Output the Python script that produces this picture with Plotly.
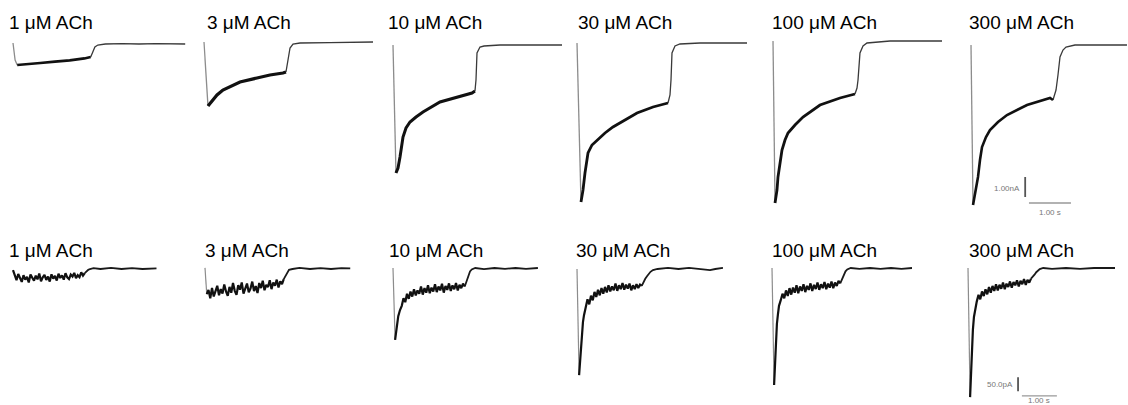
import plotly.graph_objects as go

W, H = 1128, 405

labels = ["1 μM ACh", "3 μM ACh", "10 μM ACh", "30 μM ACh", "100 μM ACh", "300 μM ACh"]

# ---------------- top row: time (s) vs current (nA) ----------------
top_t1 = [0, 0.05, 0.1, 0.3, 0.65, 1.0, 1.35, 1.7, 1.85, 1.9, 1.95, 2.02, 2.2, 2.6, 3.0, 3.4, 3.8, 4.1]
top_i1 = [0.05, -0.8, -1.05, -1.0, -0.95, -0.88, -0.82, -0.72, -0.65, -0.4, -0.15, -0.05, 0, 0.02, 0, 0.02, 0, 0]

top_t2 = [0, 0.048, 0.095, 0.19, 0.31, 0.45, 0.64, 0.857, 1.262, 1.571, 1.881, 1.952, 2.0, 2.048, 2.119, 2.286, 3.0, 4.024]
top_i2 = [0.05, -1.85, -3.15, -2.9, -2.6, -2.35, -2.15, -1.95, -1.75, -1.6, -1.5, -1.45, -0.85, -0.25, -0.05, 0, 0.02, 0.05]

top_t3 = [0, 0.048, 0.071, 0.119, 0.167, 0.238, 0.31, 0.405, 0.548, 0.714, 1.119, 1.524, 1.881, 1.952, 1.976, 2.0, 2.071, 2.167, 2.548, 4.024]
top_i3 = [0, -3.75, -6.4, -6.15, -5.6, -4.6, -4.15, -3.85, -3.6, -3.35, -2.85, -2.6, -2.4, -2.3, -1.75, -0.4, -0.1, -0.05, 0, 0]

top_t4 = [0, 0.048, 0.095, 0.143, 0.19, 0.262, 0.357, 0.476, 0.667, 0.857, 1.143, 1.429, 1.81, 2.167, 2.214, 2.238, 2.262, 2.333, 2.452, 2.929, 4.048]
top_i4 = [0, -4.35, -7.95, -7.35, -6.5, -5.5, -5.1, -4.85, -4.5, -4.2, -3.85, -3.5, -3.2, -3.0, -2.6, -1.85, -0.5, -0.15, -0.05, 0, 0]

top_t5 = [0, 0.024, 0.048, 0.095, 0.119, 0.167, 0.214, 0.286, 0.357, 0.524, 0.714, 1.119, 1.595, 1.952, 2.0, 2.024, 2.071, 2.143, 2.238, 2.786, 4.024]
top_i5 = [0, -3.95, -8.1, -7.45, -6.8, -6.05, -5.45, -4.95, -4.6, -4.2, -3.8, -3.2, -2.85, -2.65, -2.35, -1.95, -0.6, -0.25, -0.1, 0, 0]

top_t6 = [0, 0.024, 0.048, 0.095, 0.167, 0.214, 0.262, 0.357, 0.452, 0.643, 0.857, 1.333, 1.881, 1.952, 2.024, 2.071, 2.119, 2.19, 2.262, 2.476, 3.714]
top_i6 = [0, -4.25, -8.0, -7.5, -6.6, -5.75, -5.1, -4.6, -4.25, -3.85, -3.5, -3.0, -2.65, -2.75, -2.25, -1.5, -0.6, -0.25, -0.1, 0, 0]

# ---------------- bottom row: time (s) vs current (pA) ----------------
bot_t1 = [0,
          0.05, 0.10, 0.15, 0.20, 0.25, 0.30, 0.35, 0.40, 0.45, 0.50, 0.55, 0.60, 0.65, 0.70, 0.75, 0.80, 0.85,
          0.90, 0.95, 1.00, 1.05, 1.10, 1.15, 1.20, 1.25, 1.30, 1.35, 1.40, 1.45, 1.50, 1.55, 1.60, 1.65, 1.70,
          1.75, 1.80, 1.85, 1.90, 1.95, 2.00, 2.05,
          2.10, 2.15, 2.20, 2.30, 2.50, 2.80, 3.10, 3.40, 3.70, 4.10]
bot_i1 = [-4,
          -25, -40, -18, -35, -46, -22, -38, -28, -48, -20, -33, -42, -24, -37, -16, -44, -30,
          -21, -39, -27, -45, -19, -34, -25, -41, -17, -32, -23, -38, -15, -30, -36, -20, -27,
          -14, -33, -22, -29, -12, -24, -15,
          -8, -3, 0, 3, 0, 4, 0, 3, 0, 2]

bot_t2 = [0, 0.05,
          0.10, 0.15, 0.20, 0.25, 0.30, 0.35, 0.40, 0.45, 0.50, 0.55, 0.60, 0.65, 0.70, 0.75, 0.80, 0.85, 0.90,
          0.95, 1.00, 1.05, 1.10, 1.15, 1.20, 1.25, 1.30, 1.35, 1.40, 1.45, 1.50, 1.55, 1.60, 1.65, 1.70, 1.75,
          1.80, 1.85, 1.90, 1.95, 2.00, 2.05, 2.10, 2.15, 2.20, 2.25,
          2.30, 2.35, 2.40, 2.50, 2.70, 3.00, 3.30, 3.60, 3.90, 4.15]
bot_i2 = [4, -90,
          -75, -105, -68, -98, -82, -60, -94, -72, -88, -55, -80, -96, -64, -85, -50, -78, -92,
          -58, -74, -48, -88, -66, -52, -83, -70, -45, -79, -61, -86, -50, -68, -42, -76, -57,
          -64, -40, -72, -48, -60, -38, -66, -44, -54, -36,
          -25, -10, -3, 0, 4, 0, 3, 0, 3, 2]

bot_t3 = [0, 0.03, 0.06, 0.10, 0.15, 0.20,
          0.25, 0.30, 0.35, 0.40, 0.45, 0.50, 0.55, 0.60, 0.65, 0.70, 0.75, 0.80, 0.85, 0.90, 0.95, 1.00,
          1.05, 1.10, 1.15, 1.20, 1.25, 1.30, 1.35, 1.40, 1.45, 1.50, 1.55, 1.60, 1.65, 1.70, 1.75, 1.80,
          1.85, 1.90, 1.95, 2.00, 2.05,
          2.10, 2.15, 2.20, 2.25, 2.35, 2.60, 2.90, 3.20, 3.50, 3.80, 4.14]
bot_i3 = [0, -120, -257, -210, -172, -150,
          -135, -108, -122, -92, -110, -84, -102, -76, -98, -80, -92, -66, -95, -72, -88, -62,
          -90, -70, -84, -58, -86, -66, -80, -56, -88, -64, -78, -55, -82, -62, -76, -54,
          -80, -60, -72, -56, -66,
          -45, -25, -12, -5, 0, -4, 0, -3, 0, -3, 0]

bot_t4 = [0, 0.03, 0.06, 0.09, 0.11, 0.14, 0.17, 0.20,
          0.25, 0.30, 0.35, 0.40, 0.45, 0.50, 0.55, 0.60, 0.65, 0.70, 0.75, 0.80, 0.85, 0.90, 0.95, 1.00,
          1.05, 1.10, 1.15, 1.20, 1.25, 1.30, 1.35, 1.40, 1.45, 1.50, 1.55, 1.60, 1.65, 1.70, 1.75, 1.80, 1.85,
          1.90, 1.95, 2.00, 2.05, 2.10, 2.17, 2.30, 2.60, 2.90, 3.20, 3.50, 3.80, 3.95, 4.17]
bot_i4 = [0, -182, -379, -330, -275, -225, -190, -165,
          -140, -108, -126, -95, -112, -82, -100, -74, -94, -68, -88, -64, -84, -58, -80, -62,
          -76, -52, -78, -58, -72, -50, -74, -56, -70, -52, -76, -58, -72, -54, -68, -56, -60,
          -45, -35, -26, -18, -10, -4, 0, 4, 0, 4, 0, -4, 0, 4]

bot_t5 = [0, 0.03, 0.06, 0.09, 0.11, 0.14, 0.17, 0.20,
          0.25, 0.30, 0.35, 0.40, 0.45, 0.50, 0.55, 0.60, 0.65, 0.70, 0.75, 0.80, 0.85, 0.90, 0.95, 1.00,
          1.05, 1.10, 1.15, 1.20, 1.25, 1.30, 1.35, 1.40, 1.45, 1.50, 1.55, 1.60, 1.65, 1.70, 1.75, 1.80,
          1.85, 1.90, 1.95,
          2.00, 2.05, 2.10, 2.15, 2.25, 2.50, 2.80, 3.10, 3.40, 3.70, 4.00]
bot_i5 = [0, -221, -418, -330, -250, -200, -165, -135,
          -115, -92, -108, -80, -100, -72, -95, -70, -88, -62, -90, -66, -82, -58, -86, -64,
          -78, -55, -82, -60, -75, -52, -78, -58, -72, -50, -76, -56, -70, -48, -72, -52,
          -64, -46, -55,
          -40, -25, -12, -5, 0, -3, 0, -3, 0, -3, 0]

bot_t6 = [0, 0.03, 0.06, 0.09, 0.11, 0.14, 0.17, 0.20,
          0.25, 0.30, 0.35, 0.40, 0.45, 0.50, 0.55, 0.60, 0.65, 0.70, 0.75, 0.80, 0.85, 0.90, 0.95, 1.00,
          1.05, 1.10, 1.15, 1.20, 1.25, 1.30, 1.35, 1.40, 1.45, 1.50, 1.55, 1.60, 1.65, 1.70, 1.75, 1.80,
          1.85, 1.90, 1.95, 2.00, 2.05, 2.15, 2.40, 2.80, 3.20, 3.60, 4.20]
bot_i6 = [0, -221, -461, -360, -280, -220, -175, -150,
          -120, -96, -112, -84, -100, -76, -94, -68, -88, -64, -82, -58, -80, -60, -74, -52,
          -76, -56, -68, -48, -70, -50, -62, -44, -66, -46, -58, -40, -60, -42, -52, -38,
          -32, -24, -15, -9, -4, 0, -3, 0, -3, 0, 0]

# scale bars (value, label)
top_scale = {"current": 1.0, "time": 1.0, "clabel": "1.00nA", "tlabel": "1.00 s"}
bot_scale = {"current": 50.0, "time": 1.0, "clabel": "50.0pA", "tlabel": "1.00 s"}

top_T = [top_t1, top_t2, top_t3, top_t4, top_t5, top_t6]
top_I = [top_i1, top_i2, top_i3, top_i4, top_i5, top_i6]
bot_T = [bot_t1, bot_t2, bot_t3, bot_t4, bot_t5, bot_t6]
bot_I = [bot_i1, bot_i2, bot_i3, bot_i4, bot_i5, bot_i6]

# segment structure (index of peak, index where the wash-off step starts)
top_seg = [(2, 8), (2, 11), (2, 13), (2, 13), (2, 13), (2, 13)]
bot_seg = [(0, 41), (1, 45), (2, 42), (2, 40), (2, 42), (2, 39)]

for a, b in zip(top_T + bot_T, top_I + bot_I):
    assert len(a) == len(b), (len(a), len(b))

# ---------------- layout (pixels) ----------------
TOP_PPS, TOP_PPU = 42.0, 20.0      # px per s, px per nA
BOT_PPS, BOT_PPU = 35.0, 0.28      # px per s, px per pA
top_x0 = [13, 204, 393, 577, 773, 971]
top_base = [44, 43, 45, 43, 41, 45]
bot_x0 = [13, 205, 393, 577, 772, 968]
bot_base = [269, 269, 268, 269, 268, 268]
TOP_BAND = (28, 230)
BOT_BAND = (252, 405)

fig = go.Figure()
layout_axes = {}


def add_panel(k, x0, base, pps, ppu, band, T, I, seg, thick, gray_w, tail_w, tail_c):
    px_l = x0 - 4
    px_r = min(x0 + 182, W)
    xr = [(px_l - x0) / pps, (px_r - x0) / pps]
    yr = [-(band[1] - base) / ppu, -(band[0] - base) / ppu]
    xn = "xaxis" if k == 1 else f"xaxis{k}"
    yn = "yaxis" if k == 1 else f"yaxis{k}"
    xs = "x" if k == 1 else f"x{k}"
    ys = "y" if k == 1 else f"y{k}"
    layout_axes[xn] = dict(domain=[px_l / W, px_r / W], range=xr, visible=False, anchor=ys, fixedrange=True)
    layout_axes[yn] = dict(domain=[1 - band[1] / H, 1 - band[0] / H], range=yr, visible=False, anchor=xs,
                           fixedrange=True)
    p, s = seg
    segs = []
    if p > 0:
        segs.append((T[: p + 1], I[: p + 1], "#8c8c8c", gray_w))
    segs.append((T[s:], I[s:], tail_c, tail_w))
    segs.append((T[p: s + 1], I[p: s + 1], "#111111", thick))
    for tx, iy, c, w in segs:
        fig.add_trace(go.Scatter(x=tx, y=iy, mode="lines", line=dict(color=c, width=w),
                                 xaxis=xs, yaxis=ys, hoverinfo="skip", showlegend=False))
    return xs, ys


top_thick = [2.6, 3.2, 3.0, 2.8, 2.8, 2.6]
for j in range(6):
    add_panel(j + 1, top_x0[j], top_base[j], TOP_PPS, TOP_PPU, TOP_BAND, top_T[j], top_I[j], top_seg[j],
              top_thick[j], 1.3, 1.3, "#3a3a3a")
for j in range(6):
    add_panel(j + 7, bot_x0[j], bot_base[j], BOT_PPS, BOT_PPU, BOT_BAND, bot_T[j], bot_I[j], bot_seg[j],
              2.2, 1.2, 1.8, "#1a1a1a")

FONT = "Liberation Sans, Arial, sans-serif"
annotations = []
label_top_y = 22
label_bot_y = 250
top_lab_x = [7, 205, 386, 576, 770, 967]
bot_lab_x = [7, 203, 387, 574, 770, 967]
for j in range(6):
    for lx, ly in ((top_lab_x[j], label_top_y), (bot_lab_x[j], label_bot_y)):
        annotations.append(dict(text=labels[j], x=lx / W, y=1 - ly / H, xref="paper", yref="paper",
                                xanchor="left", yanchor="middle", showarrow=False,
                                font=dict(family=FONT, size=19, color="#000")))


# scale bars, placed in the last panel of each row
def add_scale(xs, ys, tv, cv_top, hy, h_t0, sc, txt_y, ttxt_y):
    fig.add_trace(go.Scatter(x=[tv, tv], y=[cv_top, cv_top - sc["current"]], mode="lines",
                             line=dict(color="#555", width=1.8), xaxis=xs, yaxis=ys,
                             hoverinfo="skip", showlegend=False))
    fig.add_trace(go.Scatter(x=[h_t0, h_t0 + sc["time"]], y=[hy, hy], mode="lines",
                             line=dict(color="#999", width=1.3), xaxis=xs, yaxis=ys,
                             hoverinfo="skip", showlegend=False))
    annotations.append(dict(text=sc["clabel"], x=tv - 0.08, y=txt_y, xref=xs, yref=ys, xanchor="right",
                            yanchor="middle", showarrow=False,
                            font=dict(family=FONT, size=8, color="#777")))
    annotations.append(dict(text=sc["tlabel"], x=h_t0 + sc["time"] / 2, y=ttxt_y, xref=xs, yref=ys,
                            xanchor="center", yanchor="middle", showarrow=False,
                            font=dict(family=FONT, size=8, color="#777")))


add_scale("x6", "y6", 1.29, -6.6, -7.9, 1.38, top_scale, -7.2, -8.4)
add_scale("x12", "y12", 1.43, -390, -457, 1.54, bot_scale, -415, -472)

fig.update_layout(width=W, height=H, margin=dict(l=0, r=0, t=0, b=0), paper_bgcolor="white",
                  plot_bgcolor="rgba(0,0,0,0)", annotations=annotations, showlegend=False, **layout_axes)

fig.write_html("out.html", config={"displayModeBar": False, "staticPlot": True},
               post_script="document.body.style.margin='0px';document.body.style.overflow='hidden';")
